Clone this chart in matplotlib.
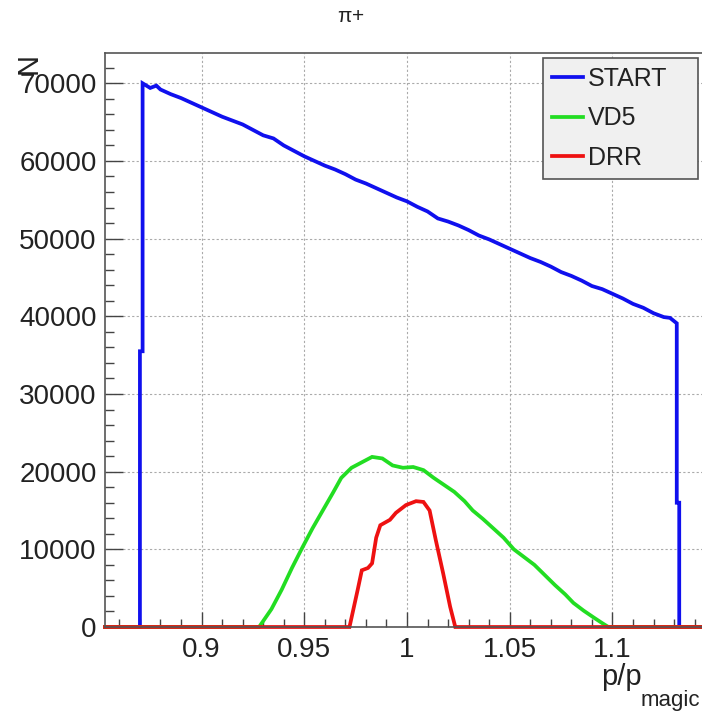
import numpy as np
import matplotlib
matplotlib.use("Agg")
import matplotlib.pyplot as plt
from matplotlib.ticker import MultipleLocator

plt.rcParams['font.family'] = ['Liberation Sans', 'DejaVu Sans']
plt.rcParams['mathtext.default'] = 'regular'

# Axis range
x_range = [0.853, 1.147]
y_range = [0, 73900]

# START histogram
start_x = [0.8700, 0.8700, 0.8713, 0.8713, 0.8750, 0.8780, 0.8800, 0.8850, 0.8900, 0.8950,
           0.9000, 0.9050, 0.9100, 0.9150, 0.9200, 0.9250, 0.9300, 0.9350, 0.9400, 0.9450,
           0.9500, 0.9550, 0.9600, 0.9650, 0.9700, 0.9750, 0.9800, 0.9850, 0.9900, 0.9950,
           1.0000, 1.0050, 1.0100, 1.0150, 1.0200, 1.0250, 1.0300, 1.0350, 1.0400, 1.0450,
           1.0500, 1.0550, 1.0600, 1.0650, 1.0700, 1.0750, 1.0800, 1.0850, 1.0900, 1.0950,
           1.1000, 1.1050, 1.1100, 1.1150, 1.1200, 1.1250, 1.1280, 1.1313, 1.1313, 1.1325,
           1.1325]
start_y = [0, 35500, 35500, 70000, 69400, 69700, 69200, 68600, 68100, 67500,
           66900, 66300, 65700, 65200, 64700, 64000, 63300, 62900, 62000, 61300,
           60600, 60000, 59400, 58900, 58300, 57600, 57100, 56500, 55900, 55300,
           54800, 54100, 53500, 52600, 52200, 51700, 51100, 50400, 49900, 49300,
           48700, 48100, 47500, 47000, 46400, 45700, 45200, 44600, 43900, 43500,
           42900, 42300, 41600, 41100, 40400, 39900, 39800, 39100, 16000, 16000,
           0]

# VD5 histogram
vd5_x = [0.928, 0.934, 0.939, 0.944, 0.949, 0.954, 0.959, 0.964, 0.968, 0.973,
         0.978, 0.983, 0.988, 0.993, 0.998, 1.003, 1.008, 1.013, 1.018, 1.023,
         1.028, 1.032, 1.037, 1.042, 1.047, 1.052, 1.057, 1.062, 1.067, 1.072,
         1.077, 1.081, 1.086, 1.091, 1.095, 1.098]
vd5_y = [0, 2300, 4800, 7600, 10200, 12700, 15000, 17300, 19200, 20500,
         21200, 21900, 21700, 20800, 20500, 20600, 20200, 19200, 18300, 17400,
         16200, 15000, 13900, 12700, 11500, 10000, 9000, 8000, 6700, 5400,
         4200, 3100, 2100, 1200, 500, 0]

# DRR histogram
drr_x = [0.972, 0.976, 0.978, 0.981, 0.983, 0.985, 0.987, 0.9917, 0.9946, 0.9995,
         1.0044, 1.008, 1.011, 1.014, 1.0176, 1.021, 1.0235]
drr_y = [0, 4800, 7300, 7600, 8200, 11500, 13100, 13800, 14700, 15700,
         16200, 16100, 15000, 11200, 6900, 2600, 0]

series = [("START", start_x, start_y, "#1010ee"),
          ("VD5", vd5_x, vd5_y, "#22dd22"),
          ("DRR", drr_x, drr_y, "#ee1111")]

W, H = 702, 711
fig = plt.figure(figsize=(W / 100, H / 100), dpi=100)
ax = fig.add_axes([105 / W, (H - 627) / H, (W - 105) / W + 0.01, (627 - 53) / H])

for name, xs, ys, col in series:
    # every histogram spans the full axis with zeros outside
    xx = [x_range[0]] + list(xs) + [x_range[1]]
    yy = [0] + list(ys) + [0]
    ax.plot(xx, yy, color=col, lw=2.7, label=name, clip_on=False,
            solid_joinstyle='miter')

ax.set_xlim(x_range)
ax.set_ylim(y_range)

ax.set_xticks([0.9, 0.95, 1.0, 1.05, 1.1])
ax.set_xticklabels(["0.9", "0.95", "1", "1.05", "1.1"])
ax.xaxis.set_minor_locator(MultipleLocator(0.01))
ax.yaxis.set_major_locator(MultipleLocator(10000))
ax.yaxis.set_minor_locator(MultipleLocator(2000))

ax.tick_params(axis='both', which='both', direction='in', colors='#444444',
               labelcolor='#222222', labelsize=20)
ax.tick_params(axis='y', which='major', length=13, width=1, pad=6)
ax.tick_params(axis='y', which='minor', length=6.5, width=1)
ax.tick_params(axis='x', which='major', length=11, width=1, pad=7)
ax.tick_params(axis='x', which='minor', length=6, width=1)

ax.grid(True, which='major', color='#aaaaaa', linestyle=(0, (2, 2)), lw=0.8)
ax.set_axisbelow(True)

for s in ax.spines.values():
    s.set_color('#555555')
    s.set_linewidth(1.2)

leg = ax.legend(loc='upper left',
                bbox_to_anchor=(543 / W, (H - 183) / H, 155 / W, 125 / H),
                bbox_transform=fig.transFigure, mode='expand',
                frameon=True, fancybox=False, fontsize=18, handlelength=1.25,
                handletextpad=0.2, borderpad=0.35, labelspacing=0.62,
                borderaxespad=0)
leg.get_frame().set_facecolor('#f0f0f0')
leg.get_frame().set_edgecolor('#555555')
leg.get_frame().set_linewidth(1.2)
leg.get_frame().set_alpha(1)
for t in leg.get_texts():
    t.set_color('#222222')

fig.text(351 / W, (H - 17) / H, r"$\pi$+", ha='center', va='center', fontsize=15,
         color='#222222')
fig.text(29 / W, (H - 53) / H, "N", rotation=90, ha='center', va='top', fontsize=21,
         color='#222222')
# x title: "p/p" with a "magic" subscript
fig.text(642 / W, (H - 685) / H, "p/p", ha='right', va='baseline',
         fontsize=21, color='#222222')
fig.text(641 / W, (H - 706) / H, "magic", ha='left', va='baseline',
         fontsize=16, color='#222222')

fig.savefig("out.png", dpi=100)
